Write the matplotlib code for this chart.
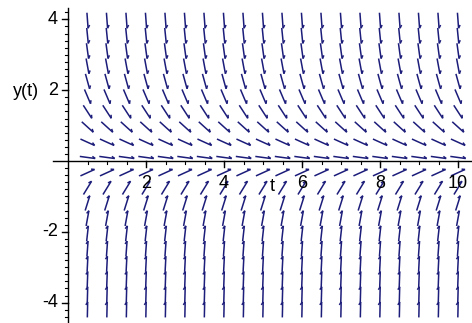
import matplotlib
matplotlib.use('Agg')
import matplotlib.pyplot as plt
from matplotlib.collections import LineCollection
import numpy as np

plt.rcParams['font.family'] = ['Liberation Sans', 'DejaVu Sans']

# grid of the direction field (Maple dfieldplot, 20 x 20)
t_cols = [0.5, 1.0, 1.5, 2.0, 2.5, 3.0, 3.5, 4.0, 4.5, 5.0,
          5.5, 6.0, 6.5, 7.0, 7.5, 8.0, 8.5, 9.0, 9.5, 10.0]
y_rows = [-4.2, -3.77, -3.34, -2.91, -2.48, -2.05, -1.62, -1.19, -0.76, -0.33,
          0.10, 0.53, 0.96, 1.39, 1.82, 2.25, 2.68, 3.11, 3.54, 3.97]
# slope dy/dt (independent of t)
row_slopes = [50, 40, 30, 22, 15, 10, 6, 3.5, 1.8, 0.5,
              -0.15, -0.5, -1.0, -1.7, -2.6, -4.0, -6.0, -8.0, -11.0, -15.0]

x_ticks = [2, 4, 6, 8, 10]
y_ticks = [-4, -2, 2, 4]

W, H = 472, 323
xlim = (-68 / 39.0, (W - 68) / 39.0)
ylim = (-(H - 161) / 35.4, 161 / 35.4)
sx = W / (xlim[1] - xlim[0])
sy = H / (ylim[1] - ylim[0])

fig = plt.figure(figsize=(W / 100, H / 100), dpi=100)
ax = fig.add_axes([0, 0, 1, 1])
ax.set_xlim(xlim)
ax.set_ylim(ylim)
ax.axis('off')

col = '#1c1c7a'
L = 15.5   # arrow length in pixels
segs = []
for y, m in zip(y_rows, row_slopes):
    d = np.array([sx, m * sy])
    d = d / np.hypot(d[0], d[1])
    for t in t_cols:
        cx, cy = t * sx, y * sy
        tail = (cx - d[0] * L / 2, cy - d[1] * L / 2)
        head = (cx + d[0] * L / 2, cy + d[1] * L / 2)
        ang = np.deg2rad(150)
        bx = d[0] * np.cos(ang) - d[1] * np.sin(ang)
        by = d[0] * np.sin(ang) + d[1] * np.cos(ang)
        barb = (head[0] + 3.5 * bx, head[1] + 3.5 * by)
        segs.append([(tail[0] / sx, tail[1] / sy), (head[0] / sx, head[1] / sy)])
        segs.append([(head[0] / sx, head[1] / sy), (barb[0] / sx, barb[1] / sy)])
ax.add_collection(LineCollection(segs, colors=col, linewidths=1.1))

# axes lines
ax.plot([-0.38, xlim[1]], [0, 0], color='black', lw=1.0)
ax.plot([0, 0], [-4.55, 4.32], color='black', lw=1.0)

# y ticks
for v in np.arange(-4.4, 4.31, 0.2):
    if abs(v) < 1e-6:
        continue
    ax.plot([-3 / sx, 0], [v, v], color='black', lw=0.8)
for v in y_ticks:
    ax.plot([-6 / sx, 0], [v, v], color='black', lw=1.0)
    ax.text(-10 / sx, v, str(v), ha='right', va='center', fontsize=13)
# x ticks
for v in np.arange(0.5, 10.01, 0.5):
    ax.plot([v, v], [0, -3 / sy], color='black', lw=0.8)
for v in x_ticks:
    ax.plot([v, v], [0, -6 / sy], color='black', lw=1.0)
    ax.text(v, -0.64, str(v), ha='center', va='center', fontsize=13)

ax.text(5.25, -0.72, 't', ha='center', va='center', fontsize=13)
ax.text(-1.08, 1.97, 'y(t)', ha='center', va='center', fontsize=13)

fig.savefig('out.png', dpi=100)
